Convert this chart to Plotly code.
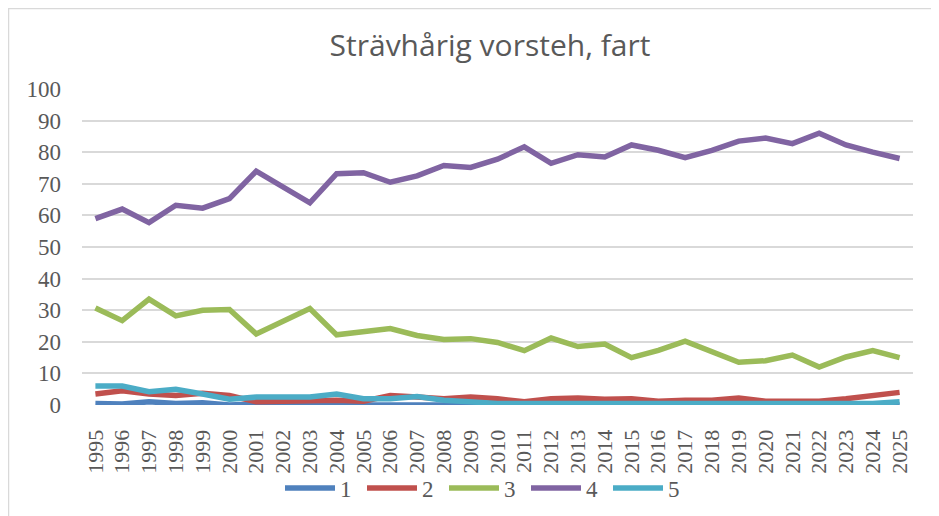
import plotly.graph_objects as go

years = [str(y) for y in range(1995, 2026)]
s1 = [0.5, 0.3, 1.0, 0.5, 0.7, 0.0, 0.3, 0.3, 0.5, 0.0, 0.0, 0.3, 0.0, 0.0, 0.3, 0.0,
      0.0, 0.0, 0.0, 0.0, 0.0, 0.0, 0.0, 0.3, 0.0, 0.0, 0.0, 0.0, 0.0, 0.0, 0.0]
s2 = [3.5, 4.5, 3.5, 3.0, 3.7, 3.0, 1.0, 1.2, 1.5, 1.5, 1.2, 3.0, 2.5, 2.0, 2.5, 2.0,
      1.0, 2.0, 2.2, 1.8, 2.0, 1.2, 1.5, 1.5, 2.2, 1.2, 1.2, 1.2, 2.0, 2.8, 4.0]
s3 = [30.7, 26.7, 33.5, 28.2, 30.0, 30.2, 22.5, 26.5, 30.5, 22.2, 23.3, 24.2, 22.0, 20.7, 21.0, 19.8,
      17.2, 21.2, 18.5, 19.3, 15.0, 17.3, 20.2, 17.0, 13.5, 14.0, 15.8, 12.0, 15.2, 17.2, 15.0]
s4 = [59.0, 62.0, 57.7, 63.2, 62.3, 65.3, 74.0, 68.8, 64.0, 73.2, 73.5, 70.5, 72.5, 75.8, 75.2, 77.8,
      81.7, 76.5, 79.2, 78.5, 82.3, 80.6, 78.3, 80.6, 83.5, 84.5, 82.7, 86.0, 82.3, 80.0, 78.0]
s5 = [6.0, 6.0, 4.2, 5.0, 3.5, 1.8, 2.5, 2.7, 2.5, 3.5, 2.0, 2.0, 2.7, 1.5, 1.0, 0.5,
      0.5, 0.5, 0.3, 0.3, 0.3, 0.5, 0.5, 0.5, 0.5, 0.5, 0.5, 0.5, 0.5, 0.5, 1.0]
names = ["1", "2", "3", "4", "5"]
series = [s1, s2, s3, s4, s5]
colors = ["#4F81BD", "#C0504D", "#9BBB59", "#8064A2", "#4BACC6"]
yticks = list(range(0, 101, 10))

SERIF = "Liberation Serif, DejaVu Serif, serif"
W, H = 931, 508
L, R, T, B = 74, 26, 81, 111

fig = go.Figure()
for n, s, c in zip(names, series, colors):
    fig.add_trace(go.Scatter(x=years, y=s, name=n, mode="lines",
                             line=dict(color=c, width=5.5)))

pw = W - L - R
ph = H - T - B
fig.update_layout(
    width=W, height=H,
    margin=dict(l=L, r=R, t=T, b=B, autoexpand=False),
    paper_bgcolor="white", plot_bgcolor="white",
    title=dict(text="Strävhårig vorsteh, fart", x=482/W, xanchor="center",
               xref="container", yref="container", y=1-37/H, yanchor="middle",
               font=dict(family="Open Sans", size=30, color="#595959")),
    showlegend=True,
    legend=dict(orientation="h", x=477/W, xanchor="center", xref="container",
                yref="container", y=1-480/H, yanchor="middle",
                bgcolor="rgba(0,0,0,0)",
                font=dict(family=SERIF, size=23, color="#595959"),
                itemwidth=50,
                entrywidth=17, entrywidthmode="pixels", traceorder="normal"),
    xaxis=dict(type="category", range=[-0.5, 30.5], tickangle=-90, automargin=False,
               tickmode="array", tickvals=years, ticktext=years,
               ticks="outside", ticklen=15, tickcolor="rgba(0,0,0,0)",
               tickfont=dict(family=SERIF, size=22, color="#595959"),
               showgrid=False, showline=False, zeroline=False),
    yaxis=dict(range=[0, 100], tickvals=yticks, showgrid=True, gridcolor="#D9D9D9",
               gridwidth=1.5, zeroline=False, ticks="", ticklabelstandoff=20,
               automargin=False,
               tickfont=dict(family=SERIF, size=23, color="#595959")),
    shapes=[dict(type="rect", xref="paper", yref="paper",
                 x0=(-L + 0.5)/pw, x1=(W - L + 20)/pw, y0=-(B + 20)/ph, y1=1 + (T - 0.5)/ph,
                 line=dict(color="#D9D9D9", width=1.5), layer="below")],
)
fig.write_html("out.html")
